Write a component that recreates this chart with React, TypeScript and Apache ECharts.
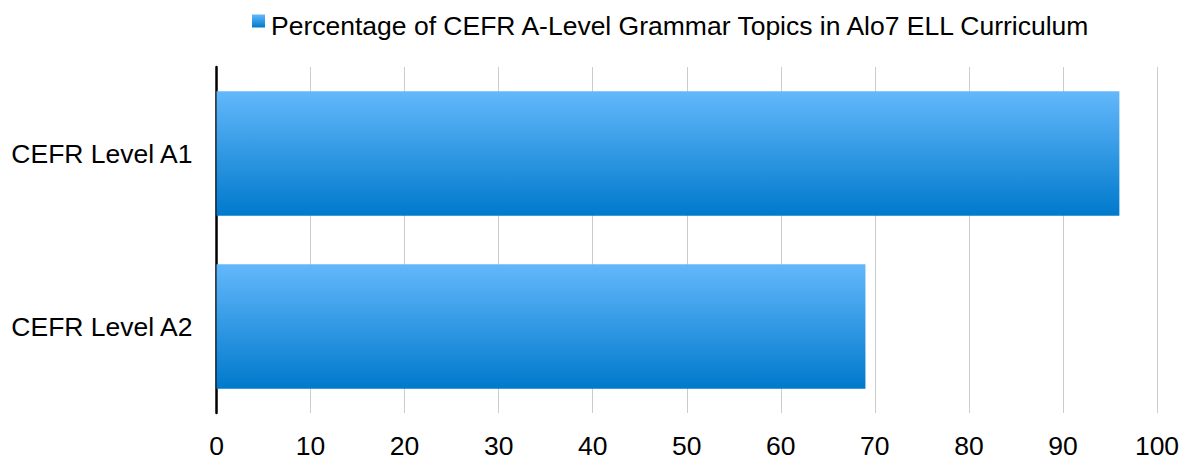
import React, { useEffect, useRef } from "react";
import * as echarts from "echarts";

const categories = ["CEFR Level A1", "CEFR Level A2"];
const values = [96, 69];
const seriesName = "Percentage of CEFR A-Level Grammar Topics in Alo7 ELL Curriculum";
const xTicks = { min: 0, max: 100, interval: 10 };

export default function App() {
  const ref = useRef<HTMLDivElement>(null);
  useEffect(() => {
    document.body.style.margin = "0";
    const chart = echarts.init(ref.current!, null, { renderer: "svg" });
    const grad = new echarts.graphic.LinearGradient(0, 0, 0, 1, [
      { offset: 0, color: "#63b8fb" },
      { offset: 1, color: "#0079cc" },
    ]);
    chart.setOption({
      animation: false,
      textStyle: { fontFamily: "Liberation Sans, Arial, sans-serif" },
      legend: {
        top: 12,
        left: 252,
        padding: 0,
        itemWidth: 13,
        itemHeight: 13,
        icon: "rect",
        formatter: "{a|{name}}",
        textStyle: {
          fontSize: 26.5,
          color: "#000",
          rich: { a: { fontSize: 26.5, color: "#000", padding: [9, 0, 0, 1] } },
        },
        data: [seriesName],
      },
      grid: { left: 216.5, right: 26, top: 67, bottom: 42, containLabel: false },
      xAxis: {
        type: "value",
        min: xTicks.min,
        max: xTicks.max,
        interval: xTicks.interval,
        axisLine: { show: false },
        axisTick: { show: false },
        splitLine: { show: true, lineStyle: { color: "#cccccc", width: 1 } },
        axisLabel: { fontSize: 26.5, color: "#000", margin: 19 },
      },
      yAxis: {
        type: "category",
        inverse: true,
        data: categories,
        axisLine: { show: true, lineStyle: { color: "#000", width: 2.5 } },
        axisTick: { show: false },
        axisLabel: { fontSize: 26.5, color: "#000", margin: 24 },
      },
      series: [
        {
          name: seriesName,
          type: "bar",
          data: values,
          barWidth: "72%",
          itemStyle: { color: grad },
        },
      ],
    });
    return () => chart.dispose();
  }, []);
  return <div ref={ref} style={{ width: 1183, height: 459 }} />;
}
